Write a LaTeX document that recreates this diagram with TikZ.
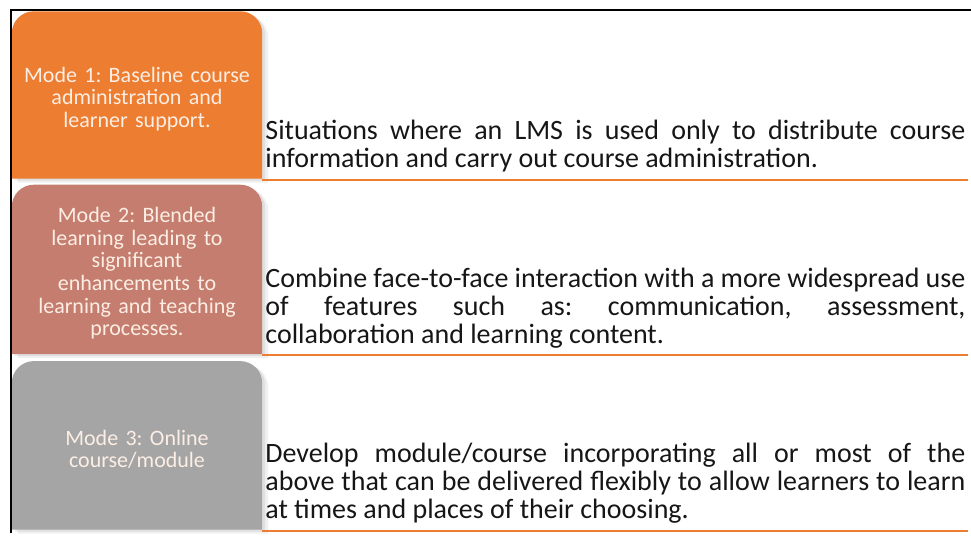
\documentclass[tikz,border=0pt]{standalone}
\usepackage{fontspec}
\setmainfont{Carlito}
\usetikzlibrary{positioning,shadows,backgrounds}
\definecolor{modeorange}{RGB}{237,125,49}
\definecolor{moderose}{RGB}{196,125,110}
\definecolor{modegray}{RGB}{165,165,165}
\definecolor{modeink}{RGB}{252,238,228}
\definecolor{descink}{RGB}{22,22,22}
\tikzset{modebox/.style={rectangle,minimum width=250pt,minimum height=167pt,inner sep=0pt}}
\tikzset{modetext/.style={inner sep=0pt,text width=240pt,align=center,text=modeink,font=\fontsize{22}{22.6}\selectfont\frenchspacing}}
\tikzset{desc/.style={anchor=south west,inner sep=0pt,text width=700pt,align=justify,text=descink,font=\fontsize{28}{28}\selectfont\frenchspacing}}
\tikzset{underline/.style={draw=modeorange,line width=2pt}}
\tikzset{frame/.style={draw=black,line width=1.4pt}}
\tikzset{boxshadow/.style={drop shadow={opacity=0.12,shadow xshift=6pt,shadow yshift=-4pt},drop shadow={opacity=0.15,shadow xshift=3pt,shadow yshift=-2pt}}}
\newcommand{\jline}[1]{\makebox[700pt][s]{#1}}

\begin{document}
\begin{tikzpicture}[x=1pt,y=-1pt]
  \useasboundingbox (0,0) rectangle (971,535);
  \node[modebox] (mode1) at (137,95) {};
  \node[modebox,below=6pt of mode1,minimum height=169pt] (mode2) {};
  \node[modebox,below=7pt of mode2,minimum height=168pt] (mode3) {};
  % rounded on top, square at the bottom
  \begin{scope}[on background layer]
    \foreach \m/\c in {mode1/modeorange,mode2/moderose,mode3/modegray}
      \fill[\c,boxshadow] (\m.south west) -- ([yshift=-22pt]\m.north west) arc[start angle=180,end angle=90,radius=22pt] -- ([xshift=-22pt]\m.north east) arc[start angle=90,end angle=0,radius=22pt] -- (\m.south east) -- cycle;
  \end{scope}
  \node[modetext,yshift=-4pt] (txt1) at (mode1) {Mode 1: Baseline course\\ administration and\\ learner support.};
  \node[modetext,yshift=-4pt] (txt2) at (mode2) {Mode 2: Blended\\ learning leading to\\ significant\\ enhancements to\\ learning and teaching\\ processes.};
  \node[modetext,yshift=-4pt] (txt3) at (mode3) {Mode 3: Online\\ course/module};

  \node[desc] (desc1) at ([xshift=3pt,yshift=6pt]mode1.south east) {\jline{Situations where an LMS is used only to distribute course}\\ information and carry out course administration.};
  \node[desc] (desc2) at ([xshift=3pt,yshift=6pt]mode2.south east) {\jline{Combine face-to-face interaction with a more widespread use}\\ \jline{of features such as: communication, assessment,}\\ collaboration and learning content.};
  \node[desc] (desc3) at ([xshift=3pt,yshift=6pt]mode3.south east) {\jline{Develop module/course incorporating all or most of the}\\ \jline{above that can be delivered flexibly to allow learners to learn}\\ at times and places of their choosing.};

  \coordinate (rim) at (968,0);
  \foreach \m in {mode1,mode2,mode3}
    \draw[underline] ([yshift=-1pt]\m.south east) -- ([yshift=-1pt]\m.south east -| rim);
  \draw[frame] (971,10) -| (11,533);
\end{tikzpicture}
\end{document}
